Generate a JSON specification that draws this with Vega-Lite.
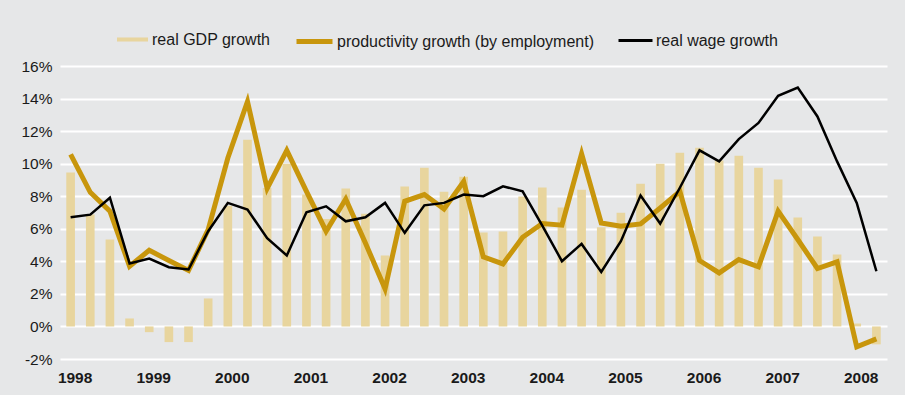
{
  "$schema": "https://vega.github.io/schema/vega-lite/v6.json",
  "width": 827,
  "height": 293,
  "autosize": {"type": "none"},
  "padding": {"left": 60, "top": 66, "right": 18, "bottom": 36},
  "background": "#e6e7e8",
  "config": {
    "view": {"stroke": null},
    "font": "Liberation Sans",
    "axis": {"labelFont": "Liberation Sans", "labelColor": "#1a1a1a"},
    "legend": {"labelFont": "Liberation Sans", "labelColor": "#1a1a1a", "labelLimit": 600, "labelFontSize": 16, "padding": 0, "title": null}
  },
  "data": {
    "values": [
      {"q": "1998Q1", "gdp": 9.45, "prod": 10.57, "wage": 6.71},
      {"q": "1998Q2", "gdp": 6.87, "prod": 8.24, "wage": 6.87},
      {"q": "1998Q3", "gdp": 5.34, "prod": 7.08, "wage": 7.91},
      {"q": "1998Q4", "gdp": 0.49, "prod": 3.70, "wage": 3.87},
      {"q": "1999Q1", "gdp": -0.35, "prod": 4.68, "wage": 4.17},
      {"q": "1999Q2", "gdp": -0.96, "prod": 4.05, "wage": 3.64},
      {"q": "1999Q3", "gdp": -0.96, "prod": 3.44, "wage": 3.50},
      {"q": "1999Q4", "gdp": 1.72, "prod": 5.95, "wage": 5.85},
      {"q": "2000Q1", "gdp": 7.42, "prod": 10.35, "wage": 7.59},
      {"q": "2000Q2", "gdp": 11.47, "prod": 13.82, "wage": 7.18},
      {"q": "2000Q3", "gdp": 8.5, "prod": 8.47, "wage": 5.42},
      {"q": "2000Q4", "gdp": 10.0, "prod": 10.82, "wage": 4.36},
      {"q": "2001Q1", "gdp": 8.1, "prod": 8.3, "wage": 7.01},
      {"q": "2001Q2", "gdp": 6.6, "prod": 5.85, "wage": 7.38},
      {"q": "2001Q3", "gdp": 8.47, "prod": 7.83, "wage": 6.46},
      {"q": "2001Q4", "gdp": 6.93, "prod": 5.13, "wage": 6.71},
      {"q": "2002Q1", "gdp": 4.36, "prod": 2.31, "wage": 7.59},
      {"q": "2002Q2", "gdp": 8.59, "prod": 7.69, "wage": 5.75},
      {"q": "2002Q3", "gdp": 9.75, "prod": 8.1, "wage": 7.44},
      {"q": "2002Q4", "gdp": 8.28, "prod": 7.22, "wage": 7.59},
      {"q": "2003Q1", "gdp": 9.2, "prod": 8.9, "wage": 8.1},
      {"q": "2003Q2", "gdp": 5.77, "prod": 4.27, "wage": 8.0},
      {"q": "2003Q3", "gdp": 5.83, "prod": 3.84, "wage": 8.61},
      {"q": "2003Q4", "gdp": 7.98, "prod": 5.48, "wage": 8.3},
      {"q": "2004Q1", "gdp": 8.53, "prod": 6.32, "wage": 6.2},
      {"q": "2004Q2", "gdp": 7.30, "prod": 6.22, "wage": 4.01},
      {"q": "2004Q3", "gdp": 8.4, "prod": 10.61, "wage": 5.07},
      {"q": "2004Q4", "gdp": 6.09, "prod": 6.36, "wage": 3.35},
      {"q": "2005Q1", "gdp": 6.99, "prod": 6.16, "wage": 5.24},
      {"q": "2005Q2", "gdp": 8.77, "prod": 6.30, "wage": 8.04},
      {"q": "2005Q3", "gdp": 10.0, "prod": 7.28, "wage": 6.32},
      {"q": "2005Q4", "gdp": 10.67, "prod": 8.3, "wage": 8.52},
      {"q": "2006Q1", "gdp": 10.98, "prod": 4.05, "wage": 10.82},
      {"q": "2006Q2", "gdp": 10.2, "prod": 3.29, "wage": 10.14},
      {"q": "2006Q3", "gdp": 10.49, "prod": 4.11, "wage": 11.51},
      {"q": "2006Q4", "gdp": 9.75, "prod": 3.66, "wage": 12.5},
      {"q": "2007Q1", "gdp": 9.02, "prod": 7.08, "wage": 14.17},
      {"q": "2007Q2", "gdp": 6.69, "prod": 5.34, "wage": 14.68},
      {"q": "2007Q3", "gdp": 5.52, "prod": 3.56, "wage": 12.9},
      {"q": "2007Q4", "gdp": 4.42, "prod": 3.97, "wage": 10.14},
      {"q": "2008Q1", "gdp": 0.18, "prod": -1.25, "wage": 7.59},
      {"q": "2008Q2", "gdp": -1.1, "prod": -0.76, "wage": 3.39}
    ]
  },
  "encoding": {
    "x": {
      "field": "q",
      "type": "ordinal",
      "sort": null,
      "scale": {"paddingInner": 0.56, "paddingOuter": 0.32},
      "axis": {
        "title": null,
        "domain": false,
        "ticks": false,
        "grid": false,
        "labelAngle": 0,
        "labelFontSize": 15.5,
        "labelFontWeight": "bold",
        "labelPadding": 11,
        "labelOffset": 4.5,
        "labelOverlap": false,
        "values": ["1998Q1","1999Q1","2000Q1","2001Q1","2002Q1","2003Q1","2004Q1","2005Q1","2006Q1","2007Q1","2008Q1"],
        "labelExpr": "substring(datum.value, 0, 4)"
      }
    }
  },
  "layer": [
    {
      "mark": {"type": "bar"},
      "encoding": {
        "y": {
          "field": "gdp",
          "type": "quantitative",
          "scale": {"domain": [-2, 16], "nice": false},
          "axis": {
            "title": null,
            "domain": false,
            "ticks": false,
            "values": [-2, 0, 2, 4, 6, 8, 10, 12, 14, 16],
            "tickCount": 12,
            "labelExpr": "datum.value + '%'",
            "labelFontSize": 15.5,
            "labelPadding": 8,
            "labelOverlap": false,
            "labelFlush": false,
            "grid": true,
            "gridColor": "#ffffff",
            "gridWidth": 2,
            "gridOpacity": 1
          }
        },
        "fill": {
          "datum": "real GDP growth",
          "scale": {"range": ["#e8d59e"]},
          "legend": {
            "orient": "none",
            "legendX": 57,
            "legendY": -42,
            "symbolType": "M-1,-0.13L1,-0.13L1,0.13L-1,0.13Z",
            "symbolSize": 961,
            "symbolStrokeWidth": 0,
            "symbolOpacity": 1,
            "labelOffset": 4
          }
        }
      }
    },
    {
      "mark": {"type": "rule", "color": "#1a1a1a", "strokeWidth": 1},
      "encoding": {"y": {"datum": 0}}
    },
    {
      "mark": {"type": "line", "strokeWidth": 5, "strokeJoin": "miter", "strokeCap": "butt"},
      "encoding": {
        "y": {"field": "prod", "type": "quantitative"},
        "stroke": {
          "datum": "productivity growth (by employment)",
          "scale": {"range": ["#c8960c"]},
          "legend": {
            "orient": "none",
            "legendX": 234,
            "legendY": -45,
            "symbolType": "M-1,0L1,0",
            "symbolSize": 1296,
            "symbolStrokeWidth": 5,
            "labelOffset": 2
          }
        }
      }
    },
    {
      "mark": {"type": "line", "strokeWidth": 2.5, "strokeJoin": "miter"},
      "encoding": {
        "y": {"field": "wage", "type": "quantitative"},
        "color": {
          "datum": "real wage growth",
          "scale": {"range": ["#000000"]},
          "legend": {
            "orient": "none",
            "legendX": 557,
            "legendY": -44,
            "symbolType": "M-1,0L1,0",
            "symbolSize": 1156,
            "symbolStrokeWidth": 3,
            "labelOffset": 2
          }
        }
      }
    }
  ]
}
